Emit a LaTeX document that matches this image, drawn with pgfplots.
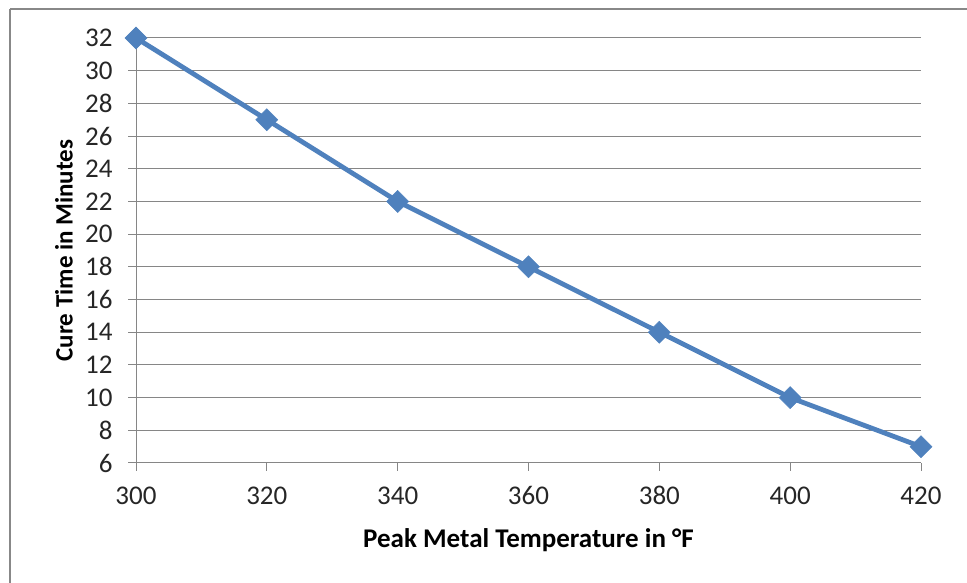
\documentclass[border=0pt]{standalone}
\usepackage{fontspec}
\setmainfont{Carlito}
\usepackage{pgfplots}
\pgfplotsset{compat=1.18}
\definecolor{exblue}{RGB}{79,129,189}
\definecolor{gridgray}{RGB}{134,134,134}
\definecolor{framegray}{RGB}{136,136,136}
\begin{document}
\begin{tikzpicture}[x=1pt,y=1pt]
\useasboundingbox (0,0) rectangle (967,583);
\draw[framegray, line width=2.5pt] (10,574) -- (980,574);
\draw[framegray, line width=2.5pt] (10,574) -- (10,-10);
\begin{axis}[
  at={(136pt,120pt)}, anchor=south west,
  scale only axis, width=785pt, height=425pt,
  xmin=300, xmax=420, ymin=6, ymax=32,
  xtick={300,320,...,420}, ytick={6,8,...,32},
  axis x line*=bottom, axis y line*=left,
  axis line style={gridgray, line width=1pt, -},
  ymajorgrids, grid style={gridgray, line width=1pt},
  tick style={gridgray, line width=1pt},
  tick align=outside, major tick length=8pt,
  /pgf/number format/assume math mode=true,
  /pgf/number format/1000 sep={},
  ticklabel style={font=\fontsize{27}{30}\selectfont, text=black!85},
  xticklabel style={yshift=-12pt},
  yticklabel style={xshift=-12pt},
  xlabel={Peak Metal Temperature in °F},
  ylabel={Cure Time in Minutes},
  every axis x label/.style={at={(axis description cs:0.5,0)}, yshift=-77pt, anchor=center, font=\fontsize{27}{30}\selectfont\bfseries, text=black},
  every axis y label/.style={at={(axis description cs:0,0.5)}, xshift=-72pt, rotate=90, anchor=center, font=\fontsize{25}{28}\selectfont\bfseries, text=black},
  clip=false,
]
\addplot[exblue, line width=4.8pt, mark=square*, mark size=7.8pt, mark options={exblue, rotate=45, line width=0.5pt}] coordinates {
  (300,32) (320,27) (340,22) (360,18) (380,14) (400,10) (420,7)
};
\end{axis}
\end{tikzpicture}
\end{document}
